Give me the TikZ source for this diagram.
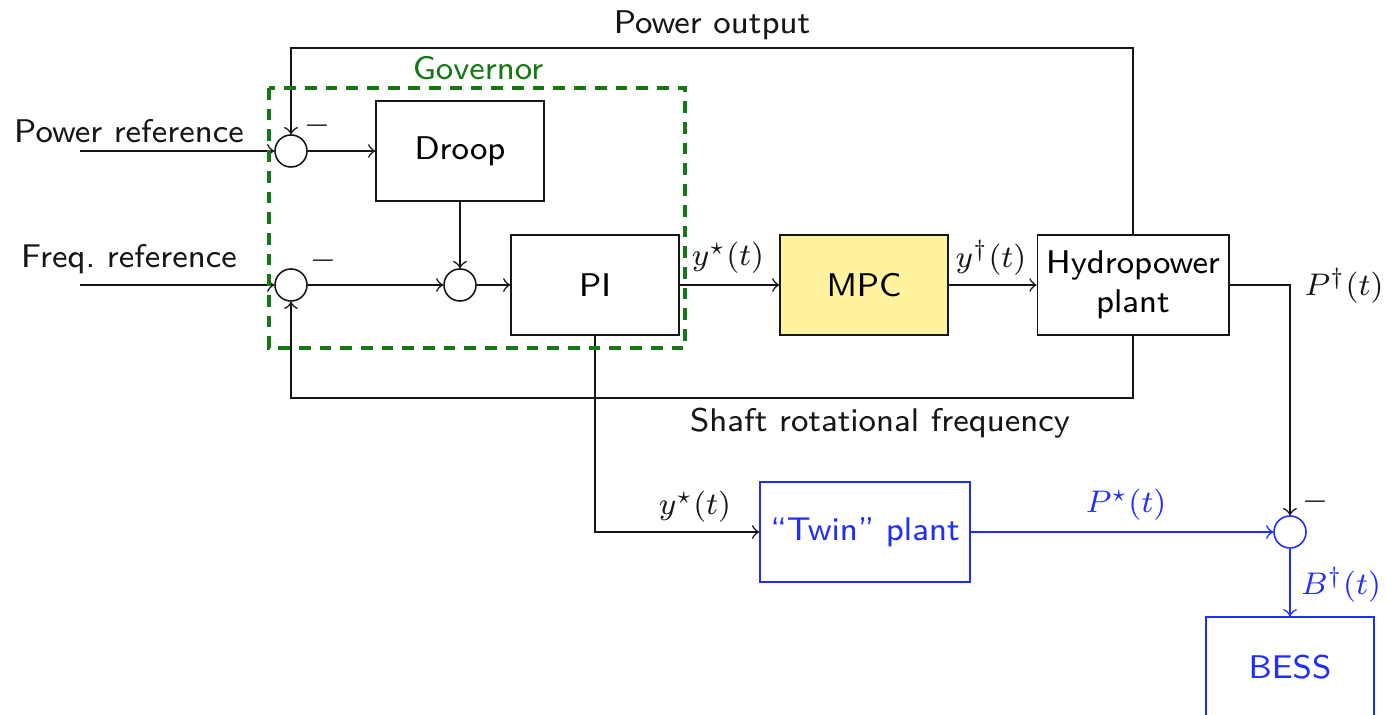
\documentclass[tikz,border=0pt]{standalone}
\usepackage{xcolor,tikz}
\definecolor{ink}{HTML}{14161A}
\definecolor{gov}{HTML}{157815}
\definecolor{twin}{HTML}{1F2EFF}
\definecolor{mpcgelb}{HTML}{FFF3A0}
\newcommand{\lbl}{\fontsize{8.4}{10}\selectfont\sffamily}
\tikzset{block/.style={draw=ink,minimum width=43pt,minimum height=25.6pt,inner sep=0,font=\lbl,align=center},
  summe/.style={draw=ink,circle,minimum size=8.2pt,inner sep=0},
  pfeil/.style={ink,line width=0.4pt,->},
  rahmen/.style={gov,line width=0.8pt,dash pattern=on 3pt off 2.3pt}}

\begin{document}
\begin{tikzpicture}[x=0.256pt,y=-0.256pt]
\useasboundingbox (0,0) rectangle (1387,715);
% Regler
\node[summe] (sumP) at (291,151) {};
\node[summe] (sumF) at (291,285) {};
\node[summe] (sumD) at (460,285) {};
\node[block] (droop) at (460,151) {Droop};
\node[block] (pi) at (595,285) {PI};
\node[block,fill=mpcgelb] (mpc) at (864,285) {MPC};
\node[block,minimum width=49pt] (hydro) at (1133,285) {Hydropower\\plant};
\coordinate (inP) at (80,151);
\coordinate (inF) at (80,285);
\node[inner sep=0,text=ink,font=\lbl] (pref) at (129,131) {Power reference};
\node[inner sep=0,text=ink,font=\lbl] (fref) at (129,259) {Freq.\ reference};
\node[inner sep=0,text=ink,font=\lbl] (mP) at (317,126) {$-$};
\node[inner sep=0,text=ink,font=\lbl] (mF) at (323,261) {$-$};
\node[inner sep=0,text=gov,font=\lbl] (govlbl) at (478,68) {Governor};
\node[inner sep=0,text=ink,font=\lbl] (pout) at (712,25) {Power output};
\node[inner sep=0,text=ink,font=\lbl] (shaft) at (880,423) {Shaft rotational frequency};
\node[inner sep=0,text=ink,font=\lbl] (ys1) at (728,258) {$y^\star(t)$};
\node[inner sep=0,text=ink,font=\lbl] (yd) at (991,258) {$y^\dagger(t)$};
\node[inner sep=0,text=ink,font=\lbl] (Pd) at (1344,286) {$P^\dagger(t)$};
\draw[pfeil] (inP) -- (sumP);
\draw[pfeil] (inF) -- (sumF);
\draw[pfeil] (sumP) -- (droop);
\draw[pfeil] (droop) -- (sumD);
\draw[pfeil] (sumF) -- (sumD);
\draw[pfeil] (sumD) -- (pi);
\draw[pfeil] (pi) -- (mpc);
\draw[pfeil] (mpc) -- (hydro);
\draw[pfeil] (hydro.north) -- ++(0,-186) -| (sumP.north);
\draw[pfeil] (hydro.south) -- ++(0,62) -| (sumF.south);
% Zwilling und Speicher
\node[block,draw=twin,text=twin,minimum width=53.8pt] (twinpl) at (865,532) {``Twin'' plant};
\node[summe,draw=twin] (sumB) at (1290,532) {};
\node[block,draw=twin,text=twin] (bess) at (1290,667) {BESS};
\node[inner sep=0,text=ink,font=\lbl] (ys2) at (695,507) {$y^\star(t)$};
\node[inner sep=0,text=twin,font=\lbl] (Ps) at (1126,505) {$P^\star(t)$};
\node[inner sep=0,text=twin,font=\lbl] (Bd) at (1341,585) {$B^\dagger(t)$};
\node[inner sep=0,text=ink,font=\lbl] (mB) at (1315,502) {$-$};
\draw[pfeil] (pi.south) |- (twinpl.west);
\draw[pfeil] (hydro.east) -| (sumB.north);
\draw[pfeil,twin] (twinpl) -- (sumB);
\draw[pfeil,twin] (sumB) -- (bess);
\draw[rahmen] (269,88) rectangle (685,348);
\end{tikzpicture}
\end{document}
